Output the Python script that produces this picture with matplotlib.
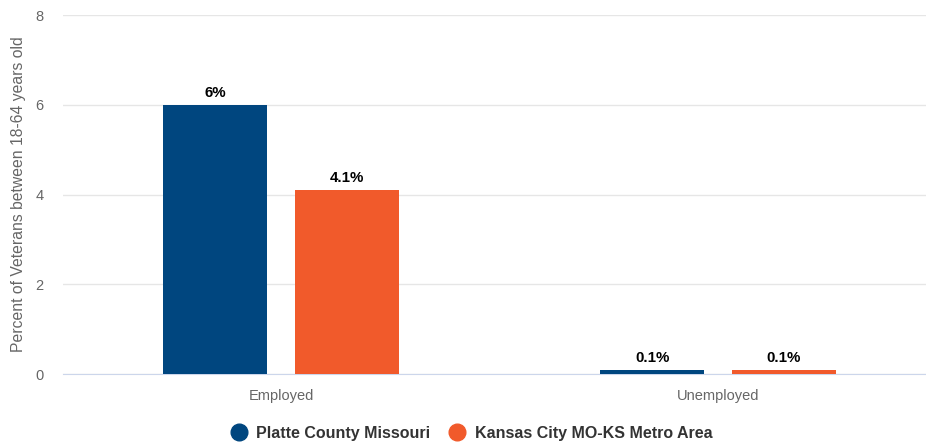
import numpy as np
import matplotlib
matplotlib.use("Agg")
import matplotlib.pyplot as plt
from matplotlib.lines import Line2D

plt.rcParams['font.family'] = ['Liberation Sans', 'DejaVu Sans']

categories = ["Employed", "Unemployed"]
series_names = ["Platte County Missouri", "Kansas City MO-KS Metro Area"]
platte = [6, 0.1]
kansas = [4.1, 0.1]
labels_platte = ["6%", "0.1%"]
labels_kansas = ["4.1%", "0.1%"]
colors = ["#00467f", "#f15a2b"]

fig = plt.figure(figsize=(9.26, 4.47), dpi=100)
ax = fig.add_axes([0.068, 0.1633, 0.932, 0.8031])

x = np.arange(len(categories))
w = 0.238
off = 0.151
for vals, labs, col, sgn in [(platte, labels_platte, colors[0], -1), (kansas, labels_kansas, colors[1], 1)]:
    bars = ax.bar(x + sgn * off, vals, width=w, color=col, zorder=3)
    for b, lab in zip(bars, labs):
        ax.text(b.get_x() + b.get_width() / 2, b.get_height() + 0.11, lab,
                ha='center', va='bottom', fontsize=10.8, fontweight='bold', color='#000000')

ax.set_xlim(-0.5, 1.476)
ax.set_ylim(0, 8)
ax.set_yticks([0, 2, 4, 6, 8])
ax.set_xticks(x)
ax.set_xticklabels(categories)
ax.grid(axis='y', color='#e6e6e6', linewidth=1, zorder=0)
for s in ['top', 'right', 'left']:
    ax.spines[s].set_visible(False)
ax.spines['bottom'].set_color('#ccd6eb')
ax.tick_params(axis='both', length=0, labelsize=10.5, colors='#666666')
ax.tick_params(axis='x', pad=11)
ax.tick_params(axis='y', pad=14)
ax.set_ylabel("Percent of Veterans between 18-64 years old", color='#666666', fontsize=11.3, labelpad=7)

handles = [Line2D([0], [0], marker='o', linestyle='', markersize=12, color=c) for c in colors]
fig.legend(handles, series_names, loc='center', bbox_to_anchor=(0.505, 0.03), ncol=2,
           frameon=False, prop={'weight': 'bold', 'size': 11.5}, labelcolor='#333333',
           handletextpad=0.1, columnspacing=0.7)

fig.savefig("out.png", dpi=100)
